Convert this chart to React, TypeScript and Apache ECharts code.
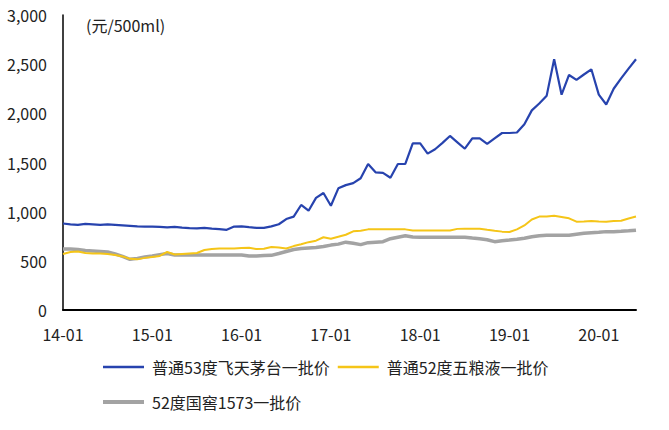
import React, { useEffect, useRef } from "react";
import * as echarts from "echarts";

const months: string[] = [];
for (let y = 14; y <= 20; y++) {
  for (let m = 1; m <= 12; m++) {
    if (y === 20 && m > 6) break;
    months.push(`${y}-${m < 10 ? "0" + m : m}`);
  }
}

const seriesNames = ["普通53度飞天茅台一批价", "普通52度五粮液一批价", "52度国窖1573一批价"];

const moutai = [
  880, 870, 865, 875, 870, 865, 870, 865, 860, 855, 850, 848,
  848, 845, 840, 845, 838, 832, 830, 835, 828, 822, 815, 848,
  850, 842, 835, 835, 850, 872, 925, 950, 1068, 1010, 1140, 1190,
  1060, 1237, 1270, 1290, 1340, 1485, 1400, 1395, 1345, 1485, 1485, 1695,
  1695, 1590, 1635, 1700, 1770, 1705, 1640, 1746, 1746, 1690, 1745, 1800,
  1800, 1805, 1890, 2030, 2100, 2180, 2550, 2190, 2390, 2340, 2395, 2448,
  2190, 2090, 2250, 2355, 2455, 2550,
];

const wuliangye = [
  570, 590, 595, 580, 575, 575, 570, 560, 545, 520, 515, 530,
  540, 550, 590, 565, 570, 575, 580, 610, 620, 625, 625, 625,
  630, 632, 620, 622, 640, 635, 625, 650, 668, 690, 705, 740,
  725, 745, 765, 800, 805, 820, 820, 820, 820, 820, 820, 808,
  808, 808, 808, 808, 808, 825, 827, 827, 827, 815, 805, 797,
  793, 820, 860, 920, 950, 950, 958, 945, 932, 898, 900, 905,
  900, 898, 905, 908, 930, 950,
];

const guojiao = [
  620, 620, 615, 605, 600, 595, 590, 570, 545, 515, 525, 540,
  550, 563, 575, 560, 560, 560, 560, 560, 560, 560, 560, 560,
  560, 550, 550, 555, 556, 575, 595, 615, 625, 630, 635, 645,
  660, 670, 690, 678, 665, 685, 690, 695, 725, 740, 755, 742,
  740, 740, 740, 740, 740, 740, 740, 732, 725, 715, 695, 705,
  712, 720, 730, 745, 755, 760, 760, 760, 760, 770, 780, 785,
  790, 797, 797, 800, 805, 812,
];

const yTicks = { min: 0, max: 3000, interval: 500 };
const unitLabel = "(元/500ml)";

const FONT = "'Noto Sans CJK SC', 'Noto Sans', sans-serif";
const colors = ["#2743ae", "#f5c518", "#a3a3a3"];

export default function App() {
  const ref = useRef<HTMLDivElement>(null);
  useEffect(() => {
    if (!ref.current) return;
    const chart = echarts.init(ref.current, undefined, { renderer: "svg" });
    chart.setOption({
      animation: false,
      backgroundColor: "#ffffff",
      textStyle: { fontFamily: FONT },
      grid: { left: 63, right: 33, top: 15, bottom: 120, containLabel: false },
      graphic: [
        {
          type: "text",
          left: 86,
          top: 17,
          style: { text: unitLabel, font: `16px ${FONT}`, fill: "#222" },
        },
      ],
      legend: [
        {
          data: [seriesNames[0], seriesNames[1]],
          icon: "rect",
          left: 98,
          top: 354,
          itemWidth: 41,
          itemHeight: 2.5,
          itemGap: 8,
          textStyle: { fontSize: 16, color: "#222", fontFamily: FONT, padding: [0, 0, 0, 3] },
        },
        {
          data: [seriesNames[2]],
          icon: "rect",
          left: 98,
          top: 389,
          itemWidth: 41,
          itemHeight: 4,
          textStyle: { fontSize: 16, color: "#222", fontFamily: FONT, padding: [0, 0, 0, 3] },
        },
      ],
      xAxis: {
        type: "category",
        data: months,
        boundaryGap: false,
        axisLine: { show: true, lineStyle: { color: "#000", width: 2 } },
        axisTick: { show: false },
        axisLabel: {
          interval: (i: number) => i % 12 === 0,
          margin: 16,
          fontSize: 16,
          color: "#222",
          fontFamily: FONT,
        },
        splitLine: { show: false },
      },
      yAxis: {
        type: "value",
        min: yTicks.min,
        max: yTicks.max,
        interval: yTicks.interval,
        axisLine: { show: true, lineStyle: { color: "#000", width: 1.5 } },
        axisTick: { show: false },
        splitLine: { show: false },
        axisLabel: {
          margin: 16,
          fontSize: 16,
          color: "#222",
          fontFamily: FONT,
          formatter: (v: number) => v.toLocaleString("en-US"),
        },
      },
      series: [
        {
          name: seriesNames[0],
          type: "line",
          data: moutai,
          symbol: "none",
          color: colors[0],
          lineStyle: { width: 2.2, color: colors[0] },
          z: 3,
        },
        {
          name: seriesNames[1],
          type: "line",
          data: wuliangye,
          symbol: "none",
          color: colors[1],
          lineStyle: { width: 2, color: colors[1] },
          z: 2,
        },
        {
          name: seriesNames[2],
          type: "line",
          data: guojiao,
          symbol: "none",
          color: colors[2],
          lineStyle: { width: 3.5, color: colors[2] },
          z: 1,
        },
      ],
    });
    return () => chart.dispose();
  }, []);
  return (
    <div
      ref={ref}
      style={{ position: "fixed", left: 0, top: 0, width: 669, height: 430 }}
    />
  );
}
